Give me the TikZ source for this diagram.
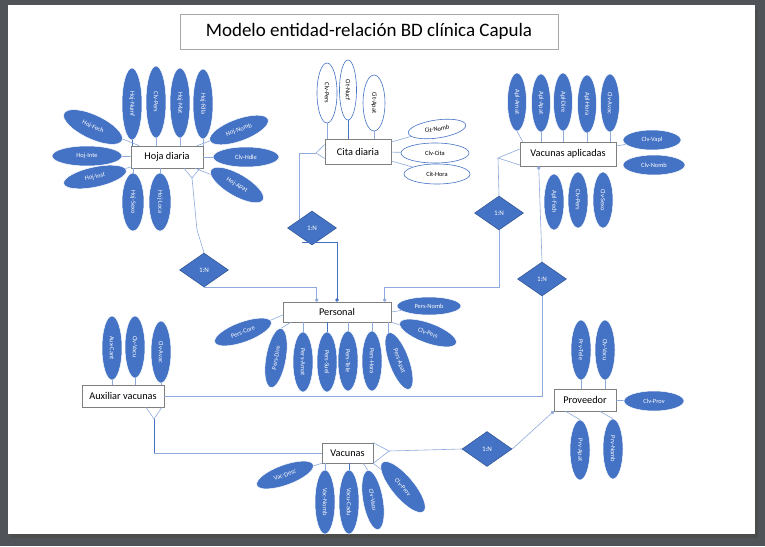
\documentclass[tikz,border=0pt]{standalone}
\usepackage{fontspec}
\setmainfont{Carlito}
\usetikzlibrary{shapes.geometric,arrows.meta,calc}
\definecolor{eblue}{HTML}{4472C4}
\definecolor{lblue}{HTML}{8FAADC}
\definecolor{dblue}{HTML}{2F528F}
\definecolor{bgray}{HTML}{505458}
\definecolor{egray}{HTML}{7F7F7F}
\definecolor{tgray}{HTML}{A6A6A6}
\begin{document}
\begin{tikzpicture}[x=1pt,y=1pt,
  ent/.style={draw=egray, fill=white, line width=0.6pt, font=\fontsize{10.3}{12}\selectfont, inner sep=0pt},
  attr/.style={ellipse, fill=eblue, draw=white, line width=0.5pt, text=white, font=\fontsize{6.4}{7.5}\selectfont, inner sep=0pt},
  attrw/.style={ellipse, fill=white, draw=eblue, line width=0.6pt, text=black, font=\fontsize{6.4}{7.5}\selectfont, inner sep=0pt},
  rel/.style={diamond, fill=eblue, draw=dblue, line width=0.5pt, text=white, font=\fontsize{7}{8}\selectfont, inner sep=0pt, minimum width=49pt, minimum height=34pt},
  ln/.style={draw=lblue, line width=0.6pt},
  dln/.style={draw=eblue, line width=1pt},
  cdot/.style={-{Circle[length=3.5pt]}}
]
\useasboundingbox (0,0) rectangle (765,-546);
\fill[bgray] (0,0) rectangle (765,-546);
\fill[black!70] (11,-9) rectangle (758,-538);
\fill[white] (8,-5) rectangle (755,-534);

% title
\node[draw=tgray, line width=0.6pt, minimum width=378pt, minimum height=35pt, inner sep=0pt, font=\fontsize{19}{22}\selectfont] (title) at (369,-31.5) {Modelo entidad-relación BD clínica Capula};

% entities
\node[ent, minimum width=72pt, minimum height=22pt] (hd) at (167,-157) {Hoja diaria};
\node[ent, minimum width=66pt, minimum height=25pt] (cd) at (358,-151.5) {Cita diaria};
\node[ent, minimum width=96pt, minimum height=24pt] (va) at (568,-154) {Vacunas aplicadas};
\node[ent, minimum width=108pt, minimum height=20pt] (pe) at (337,-312) {Personal};
\node[ent, minimum width=82pt, minimum height=22pt] (av) at (123,-396) {Auxiliar vacunas};
\node[ent, minimum width=62pt, minimum height=22pt] (pr) at (585,-400) {Proveedor};
\node[ent, minimum width=51pt, minimum height=20pt] (vc) at (347.5,-453) {Vacunas};

% relationships
\node[rel] (d1) at (204,-270) {1:N};
\node[rel] (d2) at (312,-228) {1:N};
\node[rel] (d3) at (499,-213) {1:N};
\node[rel] (d4) at (542,-279) {1:N};
\node[rel, minimum width=50pt, minimum height=35pt] (d5) at (487,-449) {1:N};

% Hoja diaria attributes
\node[attr, minimum width=72pt, minimum height=20pt, rotate=-90] (h1) at (132,-104) {Hoj-Numf};
\node[attr, minimum width=72pt, minimum height=20pt, rotate=-90] (h2) at (156,-102) {Clv-Pers};
\node[attr, minimum width=70pt, minimum height=20pt, rotate=-90] (h3) at (180,-103) {Hoj-Mat};
\node[attr, minimum width=70pt, minimum height=20pt, rotate=-90] (h4) at (203,-104) {Hoj-Fdla};
\node[attr, minimum width=64pt, minimum height=24pt, rotate=-25] (h5) at (93,-127) {Hoj-Fech};
\node[attr, minimum width=70pt, minimum height=20pt] (h6) at (87,-156) {Hoj-Inte};
\node[attr, minimum width=64pt, minimum height=20pt, rotate=12] (h7) at (95,-177) {Hoj-Inst};
\node[attr, minimum width=58pt, minimum height=22pt, rotate=-90] (h8) at (133,-202) {Hoj-Sexo};
\node[attr, minimum width=58pt, minimum height=22pt, rotate=-90] (h9) at (160,-202) {Hoj-Loca};
\node[attr, minimum width=62pt, minimum height=22pt, rotate=20] (h10) at (239,-130) {Hoj-Nomb};
\node[attr, minimum width=66pt, minimum height=20pt] (h11) at (246,-157) {Clv-Hdle};
\node[attr, minimum width=60pt, minimum height=22pt, rotate=-30] (h12) at (237,-185) {Hoj-Apat};
\draw[dln] (h1.east) -- (h1.east |- hd.north);
\foreach \n in {h2,h3,h4} \draw[ln] (\n.east) -- (\n.east |- hd.north);
\foreach \n in {h8,h9} \draw[ln] (\n.west) -- (\n.west |- hd.south);
\foreach \n in {h5,h6,h7,h10,h11,h12} \draw[ln] (\n) -- (hd);

% Cita diaria attributes
\node[attrw, minimum width=60pt, minimum height=20pt, rotate=-90] (c1) at (327,-93) {Clv-Pers};
\node[attrw, minimum width=60pt, minimum height=17pt, rotate=-90] (c2) at (348,-90) {Cit-Nucf};
\node[attrw, minimum width=56pt, minimum height=22pt, rotate=-90] (c3) at (374,-103) {Cit-Apat};
\node[attrw, minimum width=58pt, minimum height=18pt, rotate=8] (c4) at (437,-129) {Cit-Nomb};
\node[attrw, minimum width=68pt, minimum height=20pt] (c5) at (435,-153) {Clv-Cita};
\node[attrw, minimum width=66pt, minimum height=20pt] (c6) at (437,-174) {Cit-Hora};
\draw[ln] (c1.east) -- (c1.east |- cd.north);
\draw[dln] (c2.east) -- (c2.east |- cd.north);
\draw[ln] (c3.east) -- (c3.east |- cd.north);
\foreach \n in {c4,c5,c6} \draw[ln] (\n) -- (cd);

% Vacunas aplicadas attributes
\node[attr, minimum width=58pt, minimum height=19pt, rotate=-90] (v1) at (517,-102) {Apl-Amat};
\node[attr, minimum width=58pt, minimum height=19pt, rotate=-90] (v2) at (541,-103) {Apl-Apat};
\node[attr, minimum width=58pt, minimum height=19pt, rotate=-90] (v3) at (563,-102) {Apl-Dire};
\node[attr, minimum width=58pt, minimum height=19pt, rotate=-90] (v4) at (587,-104) {Apl-Hora};
\node[attr, minimum width=58pt, minimum height=19pt, rotate=-90] (v5) at (610,-103) {Clv-Avac};
\node[attr, minimum width=58pt, minimum height=20pt] (v6) at (652,-140) {Clv-Vapl};
\node[attr, minimum width=62pt, minimum height=20pt] (v7) at (654,-165) {Clv-Nomb};
\node[attr, minimum width=56pt, minimum height=20pt, rotate=-90] (v8) at (554,-202) {Apl-Fech};
\node[attr, minimum width=56pt, minimum height=20pt, rotate=-90] (v9) at (578,-200) {Clv-Pers};
\node[attr, minimum width=56pt, minimum height=20pt, rotate=-90] (v10) at (603,-200) {Clv-Sexo};
\draw[ln] (v1.east) -- ($(va.north west)+(3,0)$);
\foreach \n in {v2,v3,v4,v5} \draw[ln] (\n.east) -- (\n.east |- va.north);
\draw[ln] (v6) -- (va);

% Personal attributes
\node[attr, minimum width=64pt, minimum height=18pt] (p1) at (429,-306) {Pers-Nomb};
\node[attr, minimum width=60pt, minimum height=20pt, rotate=-20] (p2) at (428,-333) {Clv-Pers};
\node[attr, minimum width=60pt, minimum height=20pt, rotate=20] (p3) at (243,-332) {Pers-Core};
\node[attr, minimum width=60pt, minimum height=20pt, rotate=80] (p4) at (276,-358) {Pers-Dire};
\node[attr, minimum width=60pt, minimum height=20pt, rotate=-90] (p5) at (303,-362) {Pers-Amat};
\node[attr, minimum width=60pt, minimum height=20pt, rotate=-90] (p6) at (327,-362) {Pers-Suel};
\node[attr, minimum width=60pt, minimum height=20pt, rotate=-90] (p7) at (348,-361) {Pers-Tele};
\node[attr, minimum width=60pt, minimum height=20pt, rotate=-90] (p8) at (372,-361) {Pers-Hora};
\node[attr, minimum width=60pt, minimum height=20pt, rotate=-70] (p9) at (399,-361) {Pers-Apat};
\draw[ln] (p1) -- (pe.east);
\draw[ln] (p2) -- (pe.south east);
\draw[ln] (p3) -- ($(pe.west)+(0,-3)$);
\draw[ln] (p4.east) -- ($(pe.south west)+(8,0)$);
\foreach \n in {p5,p7,p8,p9} \draw[ln] (\n.west) -- (\n.west |- pe.south);
\draw[dln] (p6.west) -- (p6.west |- pe.south);

% Auxiliar vacunas attributes
\node[attr, minimum width=64pt, minimum height=20pt, rotate=-90] (a1) at (112,-348) {Aux-Cant};
\node[attr, minimum width=62pt, minimum height=20pt, rotate=-90] (a2) at (135,-347) {Clv-Vacu};
\node[attr, minimum width=62pt, minimum height=20pt, rotate=-90] (a3) at (161,-352) {Clv-Avac};
\foreach \n in {a1,a2,a3} \draw[ln] (\n.east) -- (\n.east |- av.north);

% Proveedor attributes
\node[attr, minimum width=60pt, minimum height=20pt, rotate=-90] (r1) at (581,-350) {Prv-Tele};
\node[attr, minimum width=60pt, minimum height=20pt, rotate=-90] (r2) at (605,-350) {Clv-Vacu};
\node[attr, minimum width=60pt, minimum height=20pt] (r3) at (654,-401) {Clv-Prov};
\node[attr, minimum width=60pt, minimum height=20pt, rotate=-90] (r4) at (580,-450) {Prv-Apat};
\node[attr, minimum width=60pt, minimum height=20pt, rotate=-90] (r5) at (613,-449) {Prv-Nomb};
\foreach \n in {r1,r2} \draw[ln] (\n.east) -- (\n.east |- pr.north);
\draw[ln] (r3) -- (pr);
\draw[ln] (r4.west) -- ($(pr.south west)+(12,0)$);
\draw[ln] (r5.west) -- ($(pr.south west)+(46,0)$);

% Vacunas attributes
\node[attr, minimum width=60pt, minimum height=20pt, rotate=20] (w1) at (285,-475) {Vac-Desc};
\node[attr, minimum width=64pt, minimum height=20pt, rotate=-90] (w2) at (325,-502) {Vac-Nomb};
\node[attr, minimum width=64pt, minimum height=20pt, rotate=-90] (w3) at (349,-502) {Vacu-Cadu};
\node[attr, minimum width=60pt, minimum height=20pt, rotate=-80] (w4) at (373,-500) {Clv-Vacu};
\node[attr, minimum width=64pt, minimum height=22pt, rotate=-50] (w5) at (403,-487) {Clv-Prov};
\draw[ln] (w1) -- (vc.south west);
\draw[ln] (w2.west) -- (w2.west |- vc.south);
\draw[dln] (w3.west) -- (w3.west |- vc.south);
\draw[ln] (w4.west) -- ($(vc.south east)+(-10,0)$);
\draw[ln] (w5) -- (vc.south east);

% Hoja diaria -> 1:N -> Personal
\coordinate (hf) at (192,-178);
\coordinate (hb) at (197,-230);
\draw[ln] ($(hf |- hd.south)+(-8,0)$) -- (hf) -- ($(hf |- hd.south)+(8,0)$);
\draw[ln] (hf) -- (hb) -- (d1.north);
\draw[ln,cdot] (d1.south) -| ($(pe.north west)+(34,0)$);

% Cita diaria -> 1:N -> Personal
\coordinate (cf) at (316,-153);
\draw[ln] ($(cd.west)+(0,7)$) -- (cf) -- ($(cd.west)+(0,-7)$);
\draw[ln] (cf) -| (d2.north west);
\draw[dln,cdot] ($(d2.south)+(-10,3)$) -| (pe.north);

% Vacunas aplicadas -> 1:N -> Personal
\coordinate (vf) at (498,-158);
\draw[ln] ($(va.west)+(0,5)$) -- (vf) -- ($(va.west)+(0,-11)$);
\draw[ln] (vf) -- (d3.north);
\draw[ln,cdot] (d3.south) |- ($(pe.north west)+(102,14)$) -- ($(pe.north west)+(102,0)$);

% Vacunas aplicadas -> 1:N -> Auxiliar vacunas
\draw[ln,{Circle[length=3.5pt]}-] ($(va.south west)+(19,0)$) -- (d4.north);
\draw[ln] (d4.south) |- (av.east);

% Auxiliar vacunas -> Vacunas
\coordinate (af) at (154,-419);
\draw[ln] ($(af |- av.south)+(-8,0)$) -- (af) -- ($(af |- av.south)+(8,0)$);
\draw[dln] (af) -- (af |- vc.west);
\draw[ln] (af |- vc.west) -- (vc.west);

% Vacunas -> 1:N -> Proveedor
\coordinate (vcf) at (389,-451);
\draw[ln] (vc.north east) -- (vcf) -- (vc.south east);
\draw[ln] (vcf) -- (d5.west);
\draw[ln,cdot] (d5.east) -- (pr.south west);
\end{tikzpicture}
\end{document}
